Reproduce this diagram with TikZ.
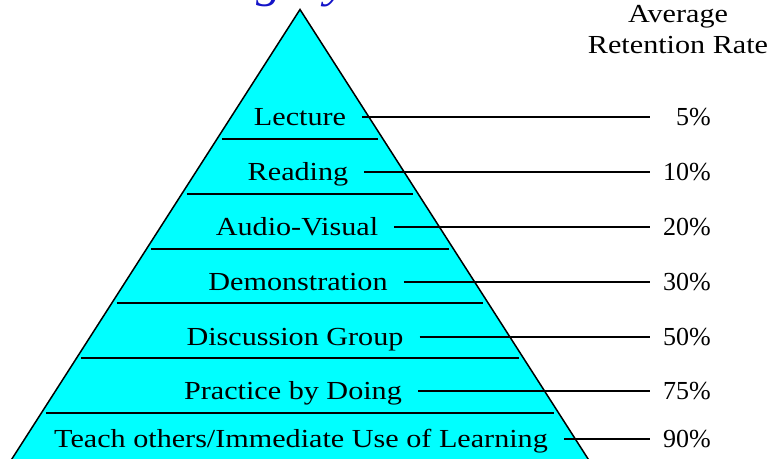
\documentclass[tikz,border=0pt]{standalone}
\usepackage{fontspec}
\setmainfont[FakeStretch=1.16]{Liberation Serif}
\newfontfamily\pctfont{Liberation Serif}
\definecolor{pyrcyan}{RGB}{0,255,255}
\definecolor{titleblue}{RGB}{20,20,200}
\begin{document}
\begin{tikzpicture}[x=1pt,y=-1pt,
  lbl/.style={font=\fontsize{26}{28}\selectfont, inner sep=0pt, anchor=base},
  pct/.style={font=\pctfont\fontsize{26}{28}\selectfont, inner sep=0pt, anchor=base east},
  conn/.style={line width=1.3pt, shorten <=16pt},
  sep/.style={line width=2.8pt},
  pyr/.style={fill=pyrcyan, draw=black, line width=1.5pt}]
\useasboundingbox (0,0) rectangle (770,458);
\begin{scope}
\clip (0,0) rectangle (770,458);
\node[font=\fontsize{44}{46}\selectfont\itshape, text=titleblue, anchor=base west, inner sep=0pt] (title) at (5,-2.5) {The Learning Pyramid};
% pyramid
\draw[pyr] (300,9.5) coordinate (apex) -- (-8,490) coordinate (bl) -- (608,490) coordinate (br) -- cycle;
\end{scope}
% separators
\foreach \y/\n in {139/1,194/2,249/3,303/4,358/5,413/6}{
  \pgfmathsetmacro{\hw}{0.642*(\y-9.5)-5}
  \coordinate (sl\n) at (300-\hw,\y);
  \coordinate (sr\n) at (300+\hw,\y);
  \draw[sep] (sl\n) -- (sr\n);
}
% labels
\node[lbl] (l1) at (300,125) {Lecture};
\node[lbl] (l2) at (298,180) {Reading};
\node[lbl] (l3) at (297,235) {Audio-Visual};
\node[lbl] (l4) at (298,290) {Demonstration};
\node[lbl] (l5) at (295,345) {Discussion Group};
\node[lbl] (l6) at (293,399) {Practice by Doing};
\node[lbl] (l7) at (301,447) {Teach others/Immediate Use of Learning};
% percentages
\node[pct] (p1) at (711,125) {5\%};
\node[pct] (p2) at (711,180) {10\%};
\node[pct] (p3) at (711,235) {20\%};
\node[pct] (p4) at (711,290) {30\%};
\node[pct] (p5) at (711,345) {50\%};
\node[pct] (p6) at (711,399) {75\%};
\node[pct] (p7) at (711,447) {90\%};
% connectors
\foreach \i/\y in {1/117,2/172,3/227,4/282,5/337,6/391,7/439}{
  \coordinate (e\i) at (650,\y);
  \draw[conn] (l\i.east |- e\i) -- (e\i);
}
% header
\node[font=\fontsize{26}{31}\selectfont, align=center, inner sep=0pt, anchor=north] (hdr) at (678,5) {Average\\Retention Rate};
\end{tikzpicture}
\end{document}
